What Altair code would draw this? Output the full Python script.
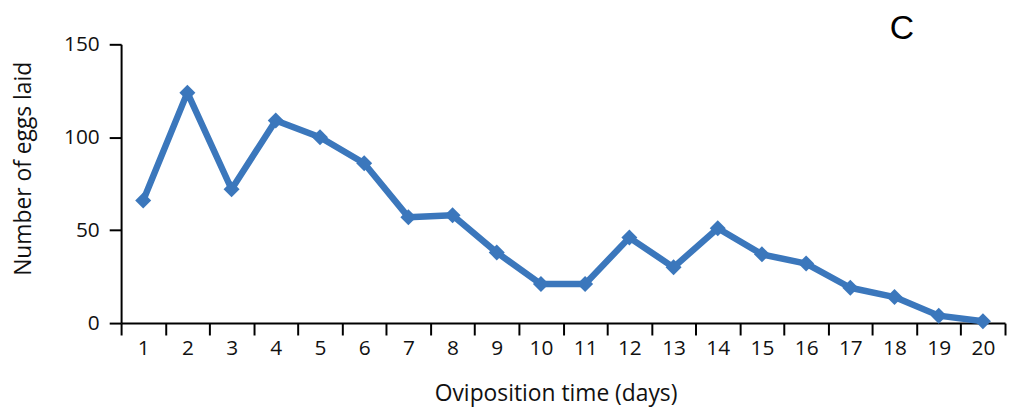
import altair as alt
import pandas as pd

days = list(range(1, 21))
eggs = [66, 124, 72, 109, 100, 86, 57, 58, 38, 21, 21, 46, 30, 51, 37, 32, 19, 14, 4, 1]
panel_label = ["C"]

df = pd.DataFrame({"day": days, "eggs": eggs})

FONT = "Open Sans"
BLUE = "#3b77bc"

x_enc = alt.X(
    "day:O",
    sort=days,
    scale=alt.Scale(type="band", paddingInner=0, paddingOuter=0),
    axis=alt.Axis(
        title="Oviposition time (days)",
        labelAngle=0,
        labelFontSize=21,
        labelFont=FONT,
        labelColor="#111111",
        labelPadding=3,
        tickBand="extent",
        tickSize=12,
        tickWidth=2,
        tickColor="black",
        domainColor="black",
        domainWidth=2,
        titleFont=FONT,
        titleFontSize=23,
        titleFontWeight="normal",
        titleColor="#111111",
        titleX=438,
        titleY=78,
        titleAlign="center",
        titleBaseline="alphabetic",
        grid=False,
    ),
)

y_enc = alt.Y(
    "eggs:Q",
    scale=alt.Scale(domain=[0, 150], nice=False),
    axis=alt.Axis(
        title="Number of eggs laid",
        values=[0, 50, 100, 150],
        labelFontSize=21,
        labelFont=FONT,
        labelColor="#111111",
        labelPadding=10,
        tickSize=12,
        tickWidth=2,
        tickColor="black",
        domainColor="black",
        domainWidth=2,
        titleFont=FONT,
        titleFontSize=23,
        titleFontWeight="normal",
        titleColor="#111111",
        titleAngle=270,
        titleX=-98,
        titleY=125,
        titleAlign="center",
        titleBaseline="middle",
        grid=False,
    ),
)

line = alt.Chart(df).mark_line(color=BLUE, strokeWidth=6.5, strokeJoin="round").encode(x=x_enc, y=y_enc)
pts = alt.Chart(df).mark_point(shape="diamond", filled=True, color=BLUE, size=260, opacity=1).encode(x=x_enc, y=y_enc)

label = alt.Chart(pd.DataFrame({"t": panel_label})).mark_text(
    font="Liberation Sans", fontSize=34, color="black", align="center", baseline="middle"
).encode(text="t:N", x=alt.value(787), y=alt.value(-15))

chart = (
    alt.layer(line, pts, label)
    .properties(
        width=891,
        height=281,
        autosize=alt.AutoSizeParams(type="none"),
        padding={"left": 114, "top": 35, "right": 2, "bottom": 86},
    )
    .configure_view(stroke=None)
)

chart.save("out.html", embed_options={"renderer": "svg", "actions": False})
